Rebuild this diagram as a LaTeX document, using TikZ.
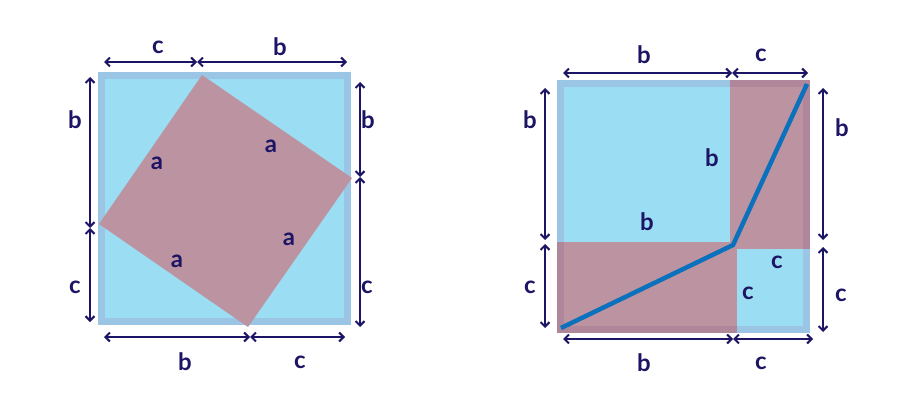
\documentclass[tikz,border=0pt]{standalone}
\usepackage{fontspec}
\newfontfamily\labelfont{Lato}
\usetikzlibrary{arrows.meta}
\definecolor{skyfill}{HTML}{9BDDF3}
\definecolor{skyedge}{HTML}{9AC5E5}
\definecolor{mauvefill}{HTML}{BC94A1}
\definecolor{mauveedge}{HTML}{B0879A}
\definecolor{navy}{HTML}{1C1464}
\definecolor{pathblue}{HTML}{0B71BC}

\begin{document}
\begin{tikzpicture}[x=1pt, y=-1pt,
    lbl/.style={text=navy, font=\labelfont\bfseries\fontsize{24}{28}\selectfont, inner sep=0pt},
    dim/.style={navy, line width=2pt,
      {Straight Barb[length=4.5pt,width=9pt]}-{Straight Barb[length=4.5pt,width=9pt]}}]
    \useasboundingbox (0,0) rectangle (902,417);

    \fill[skyedge] (98,72) rectangle (351,325);
    \fill[skyfill] (105,79) rectangle (344,318);

    \coordinate (t1) at (202,75);
    \coordinate (r1) at (352,178);
    \coordinate (b1) at (248,327);
    \coordinate (l1) at (99,224);
    \fill[mauvefill] (t1) -- (r1) -- (b1) -- (l1) -- cycle;

    \node[lbl] (a1) at (157,163) {a};
    \node[lbl] (a2) at (271,146) {a};
    \node[lbl] (a3) at (289,239) {a};
    \node[lbl] (a4) at (177,261) {a};

    \coordinate (lt0) at (104,62);
    \coordinate (lt1) at (197,62);
    \coordinate (lt2) at (347,62);
    \draw[dim] (lt0) -- (lt1);
    \draw[dim] (lt1) -- (lt2);
    \node[lbl] (ltc) at (158,47) {c};
    \node[lbl] (ltb) at (280,47) {b};

    \coordinate (ll0) at (90,77);
    \coordinate (ll1) at (90,228);
    \coordinate (ll2) at (90,322);
    \draw[dim] (ll0) -- (ll1);
    \draw[dim] (ll1) -- (ll2);
    \node[lbl] (llb) at (75,120) {b};
    \node[lbl] (llc) at (75,287) {c};

    \coordinate (lr0) at (360,82);
    \coordinate (lr1) at (360,177);
    \coordinate (lr2) at (360,327);
    \draw[dim] (lr0) -- (lr1);
    \draw[dim] (lr1) -- (lr2);
    \node[lbl] (lrb) at (368,120) {b};
    \node[lbl] (lrc) at (367,287) {c};

    \coordinate (lb0) at (104,337);
    \coordinate (lb1) at (250,337);
    \coordinate (lb2) at (345,337);
    \draw[dim] (lb0) -- (lb1);
    \draw[dim] (lb1) -- (lb2);
    \node[lbl] (lbb) at (185,362) {b};
    \node[lbl] (lbc) at (300,362) {c};

    \fill[skyedge] (557,80) rectangle (730,242);
    \fill[mauveedge] (730,80) rectangle (810,249);
    \fill[mauveedge] (557,242) rectangle (737,333);
    \fill[skyedge] (737,249) rectangle (810,333);
    \fill[skyfill] (564,87) rectangle (730,242);
    \fill[mauvefill] (730,87) rectangle (803,249);
    \fill[mauvefill] (564,242) rectangle (737,326);
    \fill[skyfill] (737,249) rectangle (803,326);

    \coordinate (p0) at (561,328);
    \coordinate (p1) at (733,245);
    \coordinate (p2) at (807,84);
    \draw[pathblue, line width=4.5pt] (p0) -- (p1) -- (p2);

    \node[lbl] (bb1) at (712,158) {b};
    \node[lbl] (bb2) at (647,222) {b};
    \node[lbl] (cc1) at (777,262) {c};
    \node[lbl] (cc2) at (748,293) {c};

    \coordinate (rt0) at (563,73);
    \coordinate (rt1) at (732,73);
    \coordinate (rt2) at (808,73);
    \draw[dim] (rt0) -- (rt1);
    \draw[dim] (rt1) -- (rt2);
    \node[lbl] (rtb) at (644,55) {b};
    \node[lbl] (rtc) at (761,55) {c};

    \coordinate (rl0) at (545,88);
    \coordinate (rl1) at (545,240);
    \coordinate (rl2) at (545,244);
    \coordinate (rl3) at (545,328);
    \draw[dim] (rl0) -- (rl1);
    \draw[dim] (rl2) -- (rl3);
    \node[lbl] (rlb) at (530,120) {b};
    \node[lbl] (rlc) at (530,287) {c};

    \coordinate (rr0) at (823,88);
    \coordinate (rr1) at (823,240);
    \coordinate (rr2) at (823,247);
    \coordinate (rr3) at (823,332);
    \draw[dim] (rr0) -- (rr1);
    \draw[dim] (rr2) -- (rr3);
    \node[lbl] (rrb) at (842,128) {b};
    \node[lbl] (rrc) at (841,295) {c};

    \coordinate (rb0) at (563,339);
    \coordinate (rb1) at (733,339);
    \coordinate (rb2) at (813,339);
    \draw[dim] (rb0) -- (rb1);
    \draw[dim] (rb1) -- (rb2);
    \node[lbl] (rbb) at (644,363) {b};
    \node[lbl] (rbc) at (761,363) {c};

  \end{tikzpicture}
\end{document}
